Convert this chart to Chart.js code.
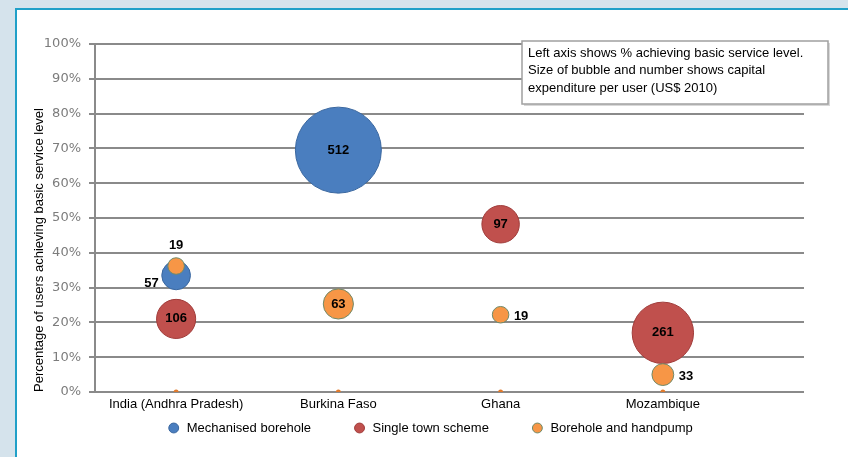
<!DOCTYPE html>
<html>
<head>
<meta charset="utf-8">
<script src="https://cdn.jsdelivr.net/npm/chart.js@4.4.1/dist/chart.umd.min.js"></script>
<style>
  html, body { margin: 0; padding: 0; }
  body { width: 848px; height: 457px; overflow: hidden; background: #d5e3ec; position: relative; }
  #panel { position: absolute; left: 15px; top: 8px; width: 900px; height: 500px; background: #fff;
           border-left: 2px solid #20a0c8; border-top: 2px solid #20a0c8; }
  #chart { position: absolute; left: 0; top: 0; }
</style>
</head>
<body>
<div id="panel"></div>
<canvas id="chart" width="848" height="457"></canvas>
<script>
// countries on the x axis (positions 1..4)
const countries = ['India (Andhra Pradesh)', 'Burkina Faso', 'Ghana', 'Mozambique'];

// % of users achieving basic service level, and capex per user (US$ 2010)
const mechX = [1, 2];
const mechPct = [33.5, 69.5];
const mechCapex = [57, 512];

const townX = [1, 3, 4];
const townPct = [21, 48.2, 17];
const townCapex = [106, 97, 261];

const handX = [1, 2, 3, 4];
const handPct = [36.2, 25.3, 22.2, 5];
const handCapex = [19, 63, 19, 33];

// small markers sitting on the baseline
const baseX = [1, 2, 3, 4];
const baseY = [0, 0, 0, 0];

// where each number label goes relative to its bubble
const mechLabelAt = ['left', 'center'];
const townLabelAt = ['center', 'center', 'center'];
const handLabelAt = ['top', 'center', 'right', 'right'];

const noteLines = [
    'Left axis shows % achieving basic service level.',
    'Size of bubble and number shows capital',
    'expenditure per user (US$ 2010)'
];

// bubble area proportional to capex, 512 -> radius 43px
function radius(v) {
    return 43 * Math.sqrt(v / 512);
}

function points(xs, ys, vals) {
    return xs.map((x, i) => ({ x: x, y: ys[i], r: radius(vals[i]), v: vals[i] }));
}

const FONT = "'Liberation Sans', Arial, sans-serif";

const bubbleLabels = {
    id: 'bubbleLabels',
    afterDatasetsDraw(chart) {
        const ctx = chart.ctx;
        ctx.save();
        ctx.font = 'bold 13px ' + FONT;
        ctx.fillStyle = '#000';
        ctx.textBaseline = 'middle';
        chart.data.datasets.forEach((ds, di) => {
            if (!ds.labelAt) return;
            const meta = chart.getDatasetMeta(di);
            meta.data.forEach((el, i) => {
                const p = ds.data[i];
                const r = p.r;
                const pos = ds.labelAt[i];
                let x = el.x, y = el.y;
                if (pos === 'center') {
                    ctx.textAlign = 'center';
                } else if (pos === 'left') {
                    ctx.textAlign = 'right';
                    x = el.x - r - 3; y = el.y + 8;
                } else if (pos === 'top') {
                    ctx.textAlign = 'center';
                    y = el.y - r - 12;
                } else if (pos === 'right') {
                    ctx.textAlign = 'left';
                    x = el.x + r + 5; y = el.y + 2;
                }
                ctx.fillText(String(p.v), x, y);
            });
        });
        ctx.restore();
    }
};

const noteBox = {
    id: 'noteBox',
    afterDraw(chart) {
        const ctx = chart.ctx;
        const a = chart.chartArea;
        const bx = a.right - 282, by = a.top - 3, bw = 306, bh = 63;
        ctx.save();
        ctx.fillStyle = '#d8d8d8';
        ctx.fillRect(bx + 2, by + 2, bw, bh);
        ctx.fillStyle = '#fff';
        ctx.fillRect(bx, by, bw, bh);
        ctx.strokeStyle = '#a0a0a0';
        ctx.lineWidth = 1.5;
        ctx.strokeRect(bx, by, bw, bh);
        ctx.fillStyle = '#000';
        ctx.font = '13px ' + FONT;
        ctx.textAlign = 'left';
        ctx.textBaseline = 'middle';
        noteLines.forEach((t, i) => ctx.fillText(t, bx + 6, by + 12 + i * 17.5));
        ctx.restore();
    }
};

// keep the legend row short while leaving wide gaps between items
const legendHeight = {
    id: 'legendHeight',
    afterInit(chart) {
        const lg = chart.legend;
        if (!lg) return;
        const fit = lg.fit;
        const draw = lg._draw;
        lg.fit = function () {
            fit.call(this);
            this.height = 34;
        };
        lg._draw = function () {
            const t = this.top, l = this.left, r = this.right;
            this.top = t - this.options.labels.padding + 7.5;
            this.left = l + 24;
            this.right = r + 24;
            draw.call(this);
            this.top = t; this.left = l; this.right = r;
        };
    }
};

const ctx = document.getElementById('chart').getContext('2d');
const chart = new Chart(ctx, {
    type: 'bubble',
    data: {
        datasets: [
            {
                label: 'Mechanised borehole',
                data: points(mechX, mechPct, mechCapex),
                labelAt: mechLabelAt,
                backgroundColor: '#4a7ebf',
                borderColor: '#3a679f',
                borderWidth: 1,
                order: 2
            },
            {
                label: 'Single town scheme',
                data: points(townX, townPct, townCapex),
                labelAt: townLabelAt,
                backgroundColor: '#c0504d',
                borderColor: '#a03c3a',
                borderWidth: 1,
                order: 1
            },
            {
                label: 'Borehole and handpump',
                data: points(handX, handPct, handCapex),
                labelAt: handLabelAt,
                backgroundColor: '#f79646',
                borderColor: '#6f8a6a',
                borderWidth: 1,
                order: 0
            },
            {
                label: 'baseline',
                data: baseX.map((x, i) => ({ x: x, y: baseY[i], r: 2.5 })),
                backgroundColor: '#e07a2c',
                borderWidth: 0,
                order: 0
            }
        ]
    },
    options: {
        responsive: false,
        animation: false,
        layout: { padding: { top: 28, right: 36, left: 0, bottom: 9 } },
        scales: {
            x: {
                type: 'linear',
                min: 0.5,
                max: 4.87,
                afterBuildTicks: (scale) => {
                    scale.ticks = countries.map((c, i) => ({ value: i + 1 }));
                },
                afterFit: (scale) => { scale.height = 22; },
                grid: { display: false, drawTicks: false },
                border: { display: false },
                ticks: {
                    callback: (v) => countries[v - 1],
                    color: '#000',
                    font: { family: FONT, size: 13 },
                    padding: 5,
                    maxRotation: 0,
                    autoSkip: false
                }
            },
            y: {
                min: 0,
                max: 100,
                afterFit: (scale) => { scale.width = 95; },
                ticks: {
                    stepSize: 10,
                    callback: (v) => v + '%',
                    color: '#7c7c7c',
                    font: { family: "'DejaVu Sans', sans-serif", size: 13 },
                    padding: 8
                },
                grid: { color: '#8a8a8a', lineWidth: 2, tickLength: 6 },
                border: { color: '#8a8a8a', width: 2 },
                title: {
                    display: true,
                    text: 'Percentage of users achieving basic service level',
                    align: 'start',
                    color: '#000',
                    font: { family: FONT, size: 13 },
                    padding: { top: 32, bottom: 0 }
                }
            }
        },
        plugins: {
            legend: {
                position: 'bottom',
                labels: {
                    usePointStyle: true,
                    pointStyle: 'circle',
                    boxWidth: 13,
                    boxHeight: 7,
                    padding: 42,
                    color: '#000',
                    font: { family: FONT, size: 13 },
                    filter: (item) => item.datasetIndex < 3,
                    sort: (a, b) => a.datasetIndex - b.datasetIndex
                }
            },
            tooltip: { enabled: false }
        }
    },
    plugins: [bubbleLabels, noteBox, legendHeight]
});
</script>
</body>
</html>
